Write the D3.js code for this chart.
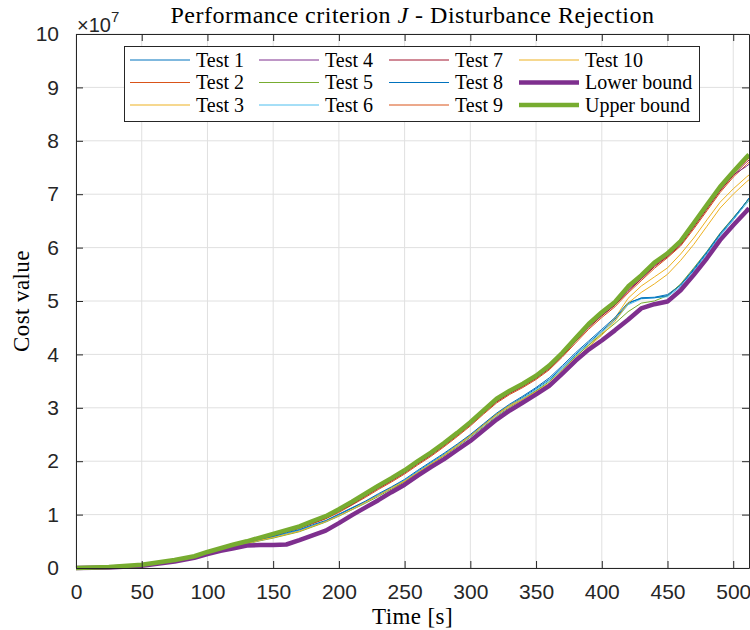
<!DOCTYPE html>
<html>
<head>
<meta charset="utf-8">
<script src="https://cdn.jsdelivr.net/npm/d3@7"></script>
<style>
  body { margin: 0; background: #fff; }
  svg { display: block; }
</style>
</head>
<body>
<script>
// time grid [s]
const time = [0, 25, 50, 75, 90, 100, 110, 120, 130, 140, 150, 160, 170, 180, 190, 200, 210, 220, 230, 240,
  250, 260, 270, 280, 290, 300, 310, 320, 330, 340, 350, 360, 370, 380, 390, 400, 410, 420, 430, 440,
  450, 460, 470, 480, 490, 500, 510, 512];

// cost values, x 1e7
const test1 = [0,0.02,0.05,0.13,0.20,0.27,0.34,0.40,0.46,0.52,0.58,0.64,0.71,0.79,0.88,1.00,1.12,1.24,1.37,1.51,1.64,1.81,1.97,2.13,2.30,2.48,2.68,2.88,3.05,3.20,3.36,3.53,3.76,4.00,4.22,4.44,4.66,4.95,5.06,5.07,5.12,5.30,5.58,5.90,6.24,6.52,6.86,6.92];
const test2 = [0,0.02,0.05,0.14,0.21,0.28,0.35,0.42,0.48,0.54,0.60,0.67,0.74,0.83,0.92,1.04,1.18,1.32,1.47,1.61,1.76,1.93,2.09,2.27,2.46,2.66,2.88,3.09,3.25,3.38,3.53,3.71,3.95,4.21,4.47,4.69,4.89,5.15,5.38,5.61,5.81,6.03,6.35,6.69,7.03,7.32,7.55,7.60];
const test3 = [0,0.01,0.04,0.12,0.19,0.26,0.32,0.37,0.42,0.43,0.43,0.44,0.52,0.61,0.71,0.85,1.00,1.15,1.30,1.46,1.62,1.79,1.95,2.12,2.30,2.49,2.69,2.89,3.05,3.18,3.32,3.46,3.70,3.95,4.18,4.40,4.68,5.05,5.28,5.45,5.62,5.88,6.18,6.52,6.85,7.10,7.32,7.36];
const test4 = [0,0.02,0.06,0.15,0.22,0.29,0.36,0.43,0.49,0.56,0.63,0.70,0.77,0.87,0.96,1.08,1.21,1.35,1.50,1.64,1.79,1.96,2.12,2.30,2.49,2.69,2.91,3.12,3.28,3.41,3.56,3.75,3.98,4.25,4.52,4.73,4.93,5.20,5.42,5.66,5.84,6.07,6.40,6.74,7.08,7.36,7.52,7.56];
const test5 = [0,0.02,0.05,0.13,0.20,0.27,0.33,0.39,0.45,0.51,0.56,0.62,0.68,0.77,0.86,0.97,1.09,1.21,1.34,1.48,1.62,1.78,1.94,2.10,2.27,2.45,2.64,2.84,3.01,3.16,3.32,3.49,3.72,3.96,4.17,4.38,4.58,4.80,4.96,5.00,5.10,5.32,5.62,5.93,6.27,6.56,6.85,6.90];
const test6 = [0,0.02,0.05,0.13,0.20,0.27,0.33,0.40,0.46,0.52,0.58,0.64,0.70,0.79,0.87,0.98,1.10,1.23,1.36,1.50,1.64,1.80,1.96,2.12,2.29,2.46,2.66,2.86,3.03,3.18,3.34,3.51,3.74,3.98,4.20,4.42,4.63,4.93,5.04,5.06,5.08,5.27,5.56,5.88,6.22,6.52,6.82,6.88];
const test7 = [0,0.02,0.06,0.14,0.21,0.29,0.36,0.42,0.48,0.55,0.61,0.68,0.75,0.84,0.93,1.06,1.19,1.34,1.49,1.63,1.78,1.95,2.11,2.29,2.48,2.68,2.90,3.11,3.27,3.40,3.55,3.73,3.97,4.24,4.50,4.72,4.92,5.18,5.41,5.64,5.83,6.05,6.38,6.72,7.06,7.35,7.60,7.64];
const test8 = [0,0.02,0.05,0.13,0.20,0.27,0.34,0.41,0.47,0.53,0.59,0.66,0.72,0.81,0.89,1.01,1.13,1.25,1.39,1.52,1.66,1.83,1.99,2.15,2.32,2.50,2.70,2.90,3.07,3.22,3.38,3.56,3.79,4.03,4.25,4.47,4.69,4.97,5.05,5.06,5.10,5.30,5.60,5.92,6.26,6.55,6.86,6.93];
const test9 = [0,0.02,0.06,0.15,0.22,0.29,0.36,0.43,0.49,0.56,0.62,0.69,0.76,0.85,0.94,1.07,1.21,1.36,1.51,1.65,1.80,1.97,2.13,2.31,2.50,2.70,2.92,3.13,3.29,3.42,3.57,3.76,4.00,4.27,4.53,4.75,4.95,5.22,5.44,5.67,5.85,6.08,6.41,6.75,7.09,7.38,7.63,7.68];
const test10 = [0,0.02,0.05,0.13,0.20,0.27,0.34,0.40,0.46,0.52,0.57,0.63,0.69,0.78,0.87,0.98,1.10,1.23,1.36,1.50,1.63,1.79,1.95,2.11,2.29,2.47,2.67,2.87,3.03,3.16,3.30,3.44,3.67,3.92,4.14,4.36,4.62,4.96,5.16,5.32,5.50,5.76,6.06,6.40,6.74,7.00,7.23,7.27];
const lowerBound = [0,0.01,0.04,0.12,0.19,0.26,0.32,0.37,0.42,0.43,0.43,0.44,0.52,0.61,0.70,0.84,0.99,1.13,1.27,1.42,1.56,1.73,1.89,2.04,2.21,2.38,2.58,2.78,2.95,3.10,3.25,3.41,3.64,3.88,4.09,4.26,4.45,4.65,4.86,4.94,4.99,5.20,5.49,5.80,6.14,6.42,6.68,6.74];
const upperBound = [0,0.02,0.06,0.15,0.22,0.30,0.37,0.44,0.50,0.57,0.64,0.71,0.78,0.88,0.97,1.10,1.24,1.39,1.54,1.68,1.83,2.00,2.16,2.34,2.53,2.73,2.95,3.17,3.32,3.45,3.60,3.79,4.03,4.30,4.57,4.79,4.98,5.27,5.48,5.72,5.89,6.12,6.46,6.80,7.14,7.42,7.69,7.74];

const names = ["Test 1", "Test 2", "Test 3", "Test 4", "Test 5", "Test 6", "Test 7", "Test 8", "Test 9", "Test 10", "Lower bound", "Upper bound"];
const colors = ["#0072BD", "#D95319", "#EDB120", "#7E2F8E", "#77AC30", "#4DBEEE", "#A2142F", "#0072BD", "#D95319", "#EDB120", "#7E2F8E", "#77AC30"];
const widths = [1, 1, 1, 1, 1, 1, 1, 1, 1, 1, 4.5, 4.5];
const allSeries = [test1, test2, test3, test4, test5, test6, test7, test8, test9, test10, lowerBound, upperBound];

const xTicks = [0, 50, 100, 150, 200, 250, 300, 350, 400, 450, 500];
const yTicks = [0, 1, 2, 3, 4, 5, 6, 7, 8, 9, 10];

const w = 750, h = 630;
const plotL = 76, plotR = 749, plotT = 34, plotB = 568;
const axisColor = "#262626";
const serif = "'Liberation Serif', 'Times New Roman', serif";
const sans = "'Liberation Sans', Arial, sans-serif";

const x = d3.scaleLinear().domain([0, 512]).range([plotL, plotR]);
const y = d3.scaleLinear().domain([0, 10]).range([plotB, plotT]);

const svg = d3.select("body").append("svg")
  .attr("width", w)
  .attr("height", h);

svg.append("rect").attr("width", w).attr("height", h).attr("fill", "#fff");

// grid
svg.append("g").selectAll("line")
  .data(xTicks).enter().append("line")
  .attr("x1", d => x(d)).attr("x2", d => x(d))
  .attr("y1", plotT).attr("y2", plotB)
  .attr("stroke", "#e0e0e0");
svg.append("g").selectAll("line")
  .data(yTicks).enter().append("line")
  .attr("x1", plotL).attr("x2", plotR)
  .attr("y1", d => y(d)).attr("y2", d => y(d))
  .attr("stroke", "#e0e0e0");

// data lines
const line = d3.line()
  .x((d, i) => x(time[i]))
  .y(d => y(d));

const plot = svg.append("g");
allSeries.forEach((s, k) => {
  plot.append("path")
    .datum(s)
    .attr("d", line)
    .attr("fill", "none")
    .attr("stroke", colors[k])
    .attr("stroke-width", widths[k])
    .attr("stroke-linejoin", "round");
});

// axes (inside ticks, box)
const tickLen = 7;
const xAxisB = d3.axisBottom(x).tickValues(xTicks).tickSizeInner(-tickLen).tickSizeOuter(0).tickPadding(16);
const xAxisT = d3.axisTop(x).tickValues(xTicks).tickSizeInner(-tickLen).tickSizeOuter(0).tickFormat("");
const yAxisL = d3.axisLeft(y).tickValues(yTicks).tickSizeInner(-tickLen).tickSizeOuter(0).tickPadding(17);
const yAxisR = d3.axisRight(y).tickValues(yTicks).tickSizeInner(-tickLen).tickSizeOuter(0).tickFormat("");

function styleAxis(g) {
  g.selectAll("path, line").attr("stroke", axisColor).attr("stroke-width", 1);
  g.selectAll("text").attr("fill", axisColor).attr("font-family", sans).attr("font-size", 21);
}

svg.append("g").attr("transform", `translate(0,${plotB})`).call(xAxisB).call(styleAxis);
svg.append("g").attr("transform", `translate(0,${plotT})`).call(xAxisT).call(styleAxis);
svg.append("g").attr("transform", `translate(${plotL},0)`).call(yAxisL).call(styleAxis);
svg.append("g").attr("transform", `translate(${plotR},0)`).call(yAxisR).call(styleAxis);

// exponent
const expo = svg.append("text")
  .attr("x", 77).attr("y", 32)
  .attr("font-family", sans).attr("font-size", 20)
  .attr("fill", axisColor);
expo.append("tspan").text("\u00d710");
expo.append("tspan").attr("dy", -10).attr("font-size", 15).text("7");

// title
const title = svg.append("text")
  .attr("x", (plotL + plotR) / 2).attr("y", 23)
  .attr("text-anchor", "middle")
  .attr("font-family", serif).attr("font-size", 24)
  .attr("letter-spacing", 0.5)
  .attr("fill", "#000");
title.append("tspan").text("Performance criterion ");
title.append("tspan").attr("font-style", "italic").text("J");
title.append("tspan").text(" - Disturbance Rejection");

// axis labels
svg.append("text")
  .attr("x", (plotL + plotR) / 2).attr("y", 624)
  .attr("text-anchor", "middle")
  .attr("font-family", serif).attr("font-size", 23)
  .attr("letter-spacing", 0.4)
  .text("Time [s]");

svg.append("text")
  .attr("transform", `translate(29,${(plotT + plotB) / 2}) rotate(-90)`)
  .attr("text-anchor", "middle")
  .attr("font-family", serif).attr("font-size", 23)
  .attr("letter-spacing", 0.4)
  .text("Cost value");

// legend
const legend = svg.append("g");
legend.append("rect")
  .attr("x", 124.5).attr("y", 46.5)
  .attr("width", 575).attr("height", 75)
  .attr("fill", "#fff")
  .attr("stroke", axisColor)
  .attr("stroke-width", 1);

const colX = [130, 259, 389, 519];
const rowY = [60, 82.5, 105];
names.forEach((n, k) => {
  const cx = colX[Math.floor(k / 3)];
  const cy = rowY[k % 3];
  legend.append("line")
    .attr("x1", cx).attr("x2", cx + 60)
    .attr("y1", cy).attr("y2", cy)
    .attr("stroke", colors[k])
    .attr("stroke-width", widths[k]);
  legend.append("text")
    .attr("x", cx + 66).attr("y", cy + 6.5)
    .attr("font-family", serif).attr("font-size", 20)
    .text(n);
});
</script>
</body>
</html>
